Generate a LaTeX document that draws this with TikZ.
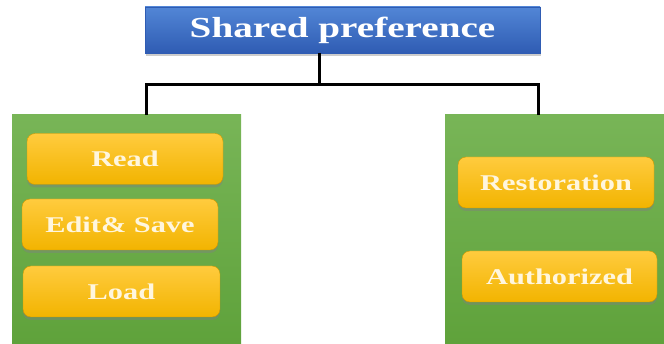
\documentclass[tikz,border=0pt]{standalone}
\usepackage{fontspec}
\usetikzlibrary{shadows}
\newfontfamily\boxfont[FakeStretch=1.35]{Liberation Serif}

\definecolor{titletop}{HTML}{5286D6}
\definecolor{titlebot}{HTML}{2F5CB3}
\definecolor{grouptop}{HTML}{78B557}
\definecolor{groupbot}{HTML}{5FA23B}
\definecolor{itemtop}{HTML}{FFCB3E}
\definecolor{itembot}{HTML}{F2B400}
\definecolor{itemtext}{HTML}{FFF6DE}

\tikzset{
    titlebox/.style={rectangle, top color=titletop, bottom color=titlebot,
        draw=titlebot, minimum width=395pt, minimum height=46pt,
        drop shadow={shadow xshift=1pt, shadow yshift=-3pt, opacity=0.4},
        text=white, font=\boxfont\fontsize{29}{31}\selectfont\bfseries},
    groupbox/.style={rectangle, top color=grouptop, bottom color=groupbot,
        draw=none, inner sep=0pt},
    itembox/.style={rectangle, rounded corners=8pt, top color=itemtop,
        bottom color=itembot, draw=itembot!85!black, line width=0.4pt,
        minimum height=51pt,
        drop shadow={shadow xshift=0pt, shadow yshift=-3pt, opacity=0.45},
        text=itemtext, font=\boxfont\fontsize{22.5}{24}\selectfont\bfseries},
    link/.style={line width=3pt, black}
}

\begin{document}
\begin{tikzpicture}[x=1pt, y=-1pt]
    \useasboundingbox (0,0) rectangle (664,344);

    \node[titlebox] (title) at (342.5,30) {Shared preference};

    \node[groupbox, minimum width=229pt, minimum height=229pt] (left) at (126.5,229.5) {};
    \node[groupbox, minimum width=219pt, minimum height=229pt] (right) at (554.5,229.5) {};

    \node[itembox, minimum width=196pt] (read) at (125,159) {Read};
    \node[itembox, minimum width=196pt] (edit) at (120,224.5) {Edit\& Save};
    \node[itembox, minimum width=197pt] (load) at (121.5,291.5) {Load};
    \node[itembox, minimum width=196pt] (restore) at (556,182.5) {Restoration};
    \node[itembox, minimum width=195pt] (auth) at (559.5,276.5) {Authorized};

    % junction points of the tree
    \coordinate (hub) at (319,85);
    \coordinate (ljoin) at (146,85);
    \coordinate (rjoin) at (538,85);

    \draw[link] (title.south -| hub) -- (hub);
    \draw[link] (left.north -| ljoin) -- (ljoin) -- (rjoin) -- (right.north -| rjoin);
\end{tikzpicture}
\end{document}
